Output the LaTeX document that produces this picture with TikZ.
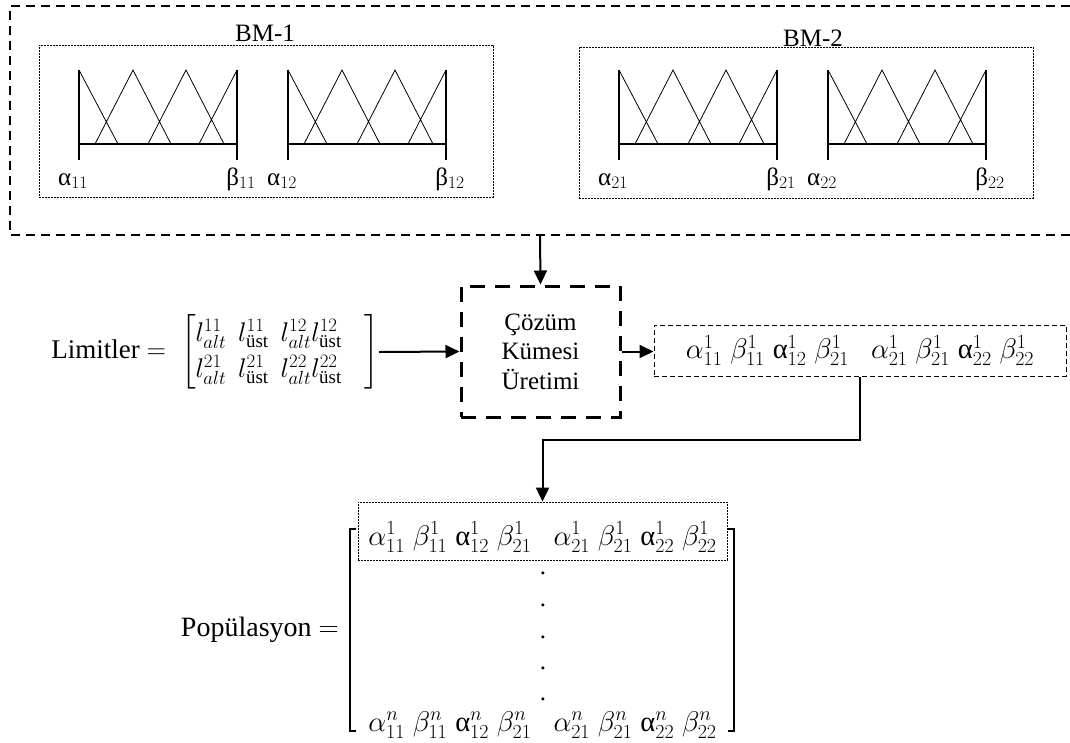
\RequirePackage{fix-cm}
\documentclass[tikz,border=0pt]{standalone}
\usepackage{amsmath}
\usepackage{fontspec}
\setmainfont{Liberation Serif}
\usepackage{tikz}
\usetikzlibrary{arrows.meta,positioning,calc}
\tikzset{
  outerbox/.style={line width=1.6pt,dash pattern=on 9pt off 6pt},
  bmbox/.style={draw,line width=0.8pt,dash pattern=on 1.6pt off 1.4pt,inner sep=0pt},
  genbox/.style={draw,line width=3pt,dash pattern=on 15pt off 10pt,align=center,
    inner sep=0pt,minimum width=159pt,minimum height=131pt},
  rowbox/.style={draw,line width=1pt,dash pattern=on 5pt off 3pt,inner sep=0pt},
  arrow/.style={-{Triangle[length=14pt,width=13pt]},line width=2pt},
  axis/.style={line width=2.2pt},
  tri/.style={line width=0.8pt},
  lbl/.style={inner sep=0pt,anchor=base},
  bigmath/.style={font=\fontsize{28.5}{33}\selectfont}
}
\newcommand{\chrom}[1]{$\alpha^{#1}_{11}\;\beta^{#1}_{11}\;$α${}^{#1}_{12}\;\beta^{#1}_{21}$\hspace{22pt}$\alpha^{#1}_{21}\;\beta^{#1}_{21}\;$α${}^{#1}_{22}\;\beta^{#1}_{22}$}

\begin{document}
\begin{tikzpicture}[x=1pt,y=-1pt,font=\fontsize{25}{29.5}\selectfont]
  \useasboundingbox (0,0) rectangle (1070,742);
  % membership functions
  \draw[outerbox] (1070,6) -- (10,6) -- (10,235) -- (1070,235);
  \coordinate (bmout) at (540,235);
  \node[bmbox,minimum width=454pt,minimum height=152pt] (bm1) at (266,121) {};
  \node[inner sep=0pt] (bm1name) at (265,33) {BM-1};
  \node[bmbox,minimum width=454pt,minimum height=151pt] (bm2) at (806,122.5) {};
  \node[inner sep=0pt] (bm2name) at (813,38) {BM-2};
  \foreach \x/\i/\j in {79/1/1,288/1/2,619/2/1,828/2/2}{
    \draw[axis] (\x,70) -- (\x,160) (\x+158,70) -- (\x+158,160) (\x,144) -- (\x+158,144);
    \draw[tri] (\x,70) -- (\x+39,144)
               (\x+16,144) -- (\x+54,70) -- (\x+92,144)
               (\x+69,144) -- (\x+107,70) -- (\x+145,144)
               (\x+120,144) -- (\x+158,70);
    \node[lbl] (a\i\j) at (\x-6,185) {α$_{\i\j}$};
    \node[lbl] (b\i\j) at (\x+162,185) {β$_{\i\j}$};
  }
  % solution generation
  \node[genbox] (gen) at (540.5,351.5) {Çözüm\\Kümesi\\Üretimi};
  \node[inner sep=0pt,anchor=east,font=\fontsize{27}{32}\selectfont] (lim) at (379,352) {Limitler $=\;\left[\renewcommand{\arraystretch}{1.12}\begin{array}{@{}l@{}}
      l^{11}_{alt}\;\,l^{11}_{\text{üst}}\;\,l^{12}_{alt}l^{12}_{\text{üst}}\\
      l^{21}_{alt}\;\,l^{21}_{\text{üst}}\;\,l^{22}_{alt}l^{22}_{\text{üst}}\end{array}\;\;\;\right]$};
  \node[rowbox,bigmath,minimum width=412pt,minimum height=51pt] (sol) at (860,350.5) {\chrom{1}};
  % population
  \node[bmbox,bigmath,minimum width=369pt,minimum height=58pt] (poptop) at (542.5,531) {\raisebox{-14pt}[0pt][0pt]{\chrom{1}}};
  \node[inner sep=0pt,anchor=east,font=\fontsize{28}{33}\selectfont] (pop) at (339,630) {Popülasyon $=$};
  \foreach \k/\y in {1/573,2/605,3/637,4/668,5/699}
    \node[inner sep=0pt] (dot\k) at (543,\y) {.};
  \node[lbl,bigmath] (popbot) at (542.5,731) {\chrom{n}};
  \draw[axis] (356,529) -- (350,529) -- (350,731) -- (356,731);
  \draw[axis] (728,529) -- (734,529) -- (734,731) -- (728,731);
  % connectors
  \draw[arrow] (bmout) -- (gen.north);
  \draw[arrow] (lim.east) -- (gen.west);
  \draw[arrow] (gen.east) -- (gen.east -| sol.west);
  \draw[arrow] (sol.south) -- ++(0,63) -| (poptop.north);
\end{tikzpicture}
\end{document}
